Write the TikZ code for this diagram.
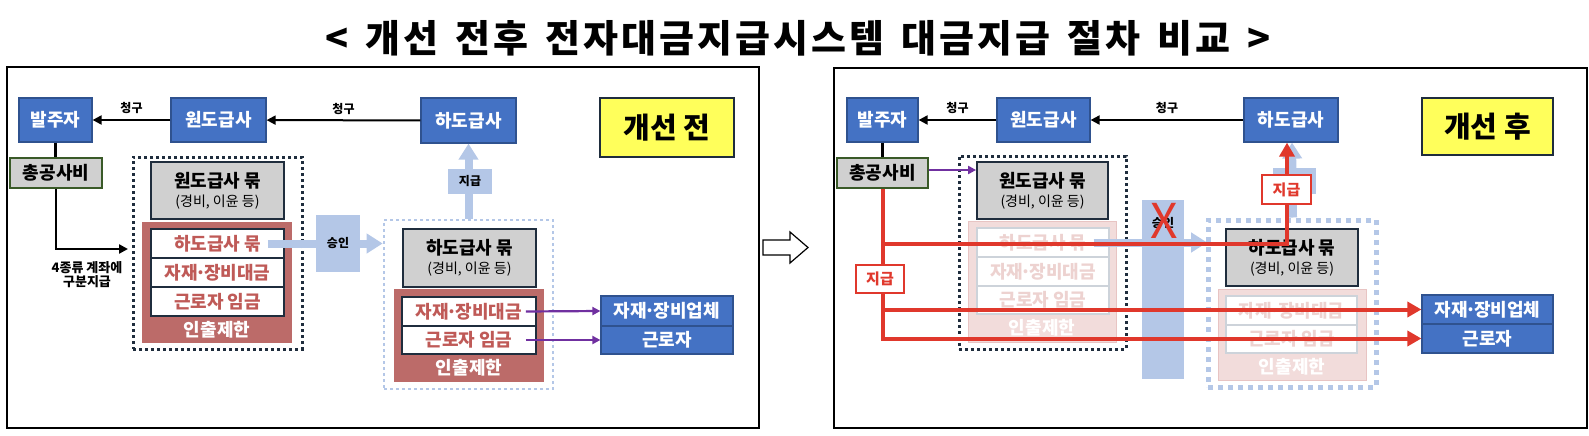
\documentclass[tikz,border=0pt]{standalone}
\usepackage{fontspec}
\setmainfont{Noto Sans CJK KR}
\usetikzlibrary{arrows.meta}

\definecolor{boxblue}{HTML}{4472C4}
\definecolor{boxblueline}{HTML}{2F528F}
\definecolor{bagfill}{HTML}{D0D0D0}
\definecolor{darkline}{HTML}{1F2D3D}
\definecolor{lockred}{HTML}{BC6B69}
\definecolor{locktext}{HTML}{BF5A57}
\definecolor{paleblue}{HTML}{B4C7E7}
\definecolor{signyellow}{HTML}{FFFF5B}
\definecolor{payred}{HTML}{E0382C}
\definecolor{viol}{HTML}{7030A0}
\definecolor{totgreen}{HTML}{3A5A28}
\definecolor{fadefill}{HTML}{F2DCDB}
\definecolor{fadeline}{HTML}{E8C4C3}
\definecolor{fadegrid}{HTML}{CDD3DA}
\definecolor{fadetext}{HTML}{EDD2D0}

\newcommand\fsz[1]{\fontsize{#1}{#1}\selectfont}
\newcommand\mdot{\kern-0.12em·\kern-0.12em}

\tikzset{
  dims/.style 2 args={minimum width=#1pt, minimum height=#2pt},
  panel/.style={draw=black, line width=1.6pt, inner sep=0pt},
  partybox/.style={draw=boxblueline, fill=boxblue, line width=1.2pt, text=white, font=\fsz{18}\bfseries, inner sep=0pt},
  bagbox/.style={draw=darkline, fill=bagfill, line width=1.8pt, align=center, font=\fsz{18}, inner sep=0pt},
  totbox/.style={draw=totgreen, fill=bagfill, line width=1.2pt, font=\fsz{18}\bfseries, inner sep=0pt},
  statebox/.style={draw=darkline, fill=signyellow, line width=2.8pt, font=\fsz{29}\bfseries, inner sep=0pt},
  lockbox/.style={fill=lockred, inner sep=0pt},
  lockrow/.style={draw=darkline, fill=white, line width=1.5pt, text=locktext, font=\fsz{18}\bfseries, inner sep=0pt},
  locklabel/.style={text=white, font=\fsz{18}\bfseries, inner sep=0pt},
  fadebox/.style={fill=fadefill, draw=fadeline, line width=1pt, inner sep=0pt},
  faderow/.style={draw=fadegrid, fill=white, line width=1.2pt, text=fadetext, font=\fsz{18}\bfseries, inner sep=0pt},
  grpblack/.style={draw=darkline, line width=3pt, dash pattern=on 3pt off 3pt, inner sep=0pt},
  grpblue/.style={draw=paleblue, line width=2.6pt, dash pattern=on 2.6pt off 3.4pt, inner sep=0pt},
  grpbluewide/.style={draw=paleblue, line width=5pt, dash pattern=on 5pt off 5pt, inner sep=0pt},
  smalltag/.style={font=\fsz{12}\bfseries, inner sep=0pt},
  paytag/.style={draw=payred, fill=white, line width=2.8pt, text=payred, font=\fsz{15}\bfseries, inner sep=0pt},
  oktag/.style={fill=paleblue, font=\fsz{12}\bfseries, inner sep=0pt},
  callarrow/.style={draw=black, line width=2pt, -{Triangle[width=9pt,length=9pt]}},
  feedline/.style={draw=black, line width=2.2pt},
  lbarrow/.style={draw=paleblue, line width=8pt, -{Triangle[width=19pt,length=16pt]}},
  vioarrow/.style={draw=viol, line width=2.2pt, -{Triangle[width=8pt,length=8pt]}},
  payline/.style={draw=payred, line width=4pt},
  payarrow/.style={payline, -{Triangle[width=15pt,length=14pt]}}
}

\begin{document}
\begin{tikzpicture}[x=1pt, y=-1pt]
\useasboundingbox (0,0) rectangle (1589,436);

\node (title) at (798,38) {\fsz{38}\bfseries\addfontfeature{LetterSpace=8}\spaceskip=0.45em < 개선 전후 전자대금지급시스템 대금지급 절차 비교 >};

% before
\node[panel, dims={752}{361}] (lframe) at (383,247.5) {};
\node[partybox, dims={73}{44}] (lbal) at (55.5,120) {발주자};
\node[partybox, dims={95}{44}] (lwon) at (218.5,120) {원도급사};
\node[partybox, dims={95}{45}] (lha) at (468.5,120.5) {하도급사};
\node[statebox, dims={134}{59}] (lstate) at (667,127.5) {개선 전};
\draw[callarrow] (lwon) -- node[smalltag, above=5pt] {청구} (lbal);
\draw[callarrow] (lha) -- node[smalltag, above=5pt] {청구} (lwon);
\node[totbox, dims={92}{30}] (ltot) at (56,173) {총공사비};
\draw[feedline] (lbal.south) -- (lbal.south |- ltot.north);

\node[grpblack, dims={169}{192}] (lwgrp) at (217.5,253) {};
\node[bagbox, dims={133}{57}] (lwbag) at (217.5,190.5) {{\bfseries 원도급사 묶}\\[1pt]{\fsz{14}(경비, 이윤 등)}};
\node[lockbox, dims={150}{121}] (lwlock) at (217,282.5) {};
\node[lockrow, dims={133}{29}] (lwr1) at (217.5,243.5) {하도급사 묶};
\node[lockrow, dims={133}{29}] (lwr2) at (217.5,272.5) {자재\mdot 장비대금};
\node[lockrow, dims={133}{29}] (lwr3) at (217.5,301.5) {근로자 임금};
\node[locklabel] (lwlab) at (217,330) {인출제한};

\coordinate (lin) at (128,249);
\draw[callarrow, line width=2.4pt] (ltot.south) |- (lin);
\node[align=center, font=\fsz{13}\bfseries, inner sep=0pt] (lsplit) at (87,275) {4종류 계좌에\\[1pt]구분지급};

\node[grpblue, dims={169}{169}] (lhgrp) at (468.5,304.5) {};
\draw[lbarrow] ([xshift=-17pt]lwr1.east) -- (lwr1 -| lhgrp.west);
\node[oktag, dims={44}{57}] (lok) at (338,243.5) {승인};
\draw[lbarrow] (lhgrp.north) -- (lha.south);
\node[oktag, dims={44}{25}] (lpay) at (470,181.5) {지급};

\node[bagbox, dims={133}{58}] (lhbag) at (469.5,258) {{\bfseries 하도급사 묶}\\[1pt]{\fsz{14}(경비, 이윤 등)}};
\node[lockbox, dims={150}{93}] (lhlock) at (469,335.5) {};
\node[lockrow, dims={134}{29}] (lhr1) at (469,311.5) {자재\mdot 장비대금};
\node[lockrow, dims={134}{28}] (lhr2) at (469,340) {근로자 임금};
\node[locklabel] (lhlab) at (469,368) {인출제한};

\node[partybox, dims={132}{30}] (lmat) at (667,311) {자재\mdot 장비업체};
\node[partybox, dims={132}{28}] (lwork) at (667,340) {근로자};
\draw[vioarrow] ([xshift=-11pt]lhr1.east) -- (lmat.west);
\draw[vioarrow] ([xshift=-11pt]lhr2.east) -- (lwork.west);

% between
\draw[line width=1.2pt, fill=white] (763,240) -- (790,240) -- (790,232) -- (808,247.5)
  -- (790,263) -- (790,255) -- (763,255) -- cycle;

% after
\node[panel, dims={753}{360}] (rframe) at (1210.5,248) {};
\node[partybox, dims={71}{44}] (rbal) at (882.5,120) {발주자};
\node[partybox, dims={93}{44}] (rwon) at (1043.5,120) {원도급사};
\node[partybox, dims={94}{44}] (rha) at (1291,120) {하도급사};
\node[statebox, dims={131}{57}] (rstate) at (1487.5,126.5) {개선 후};
\draw[callarrow] (rwon) -- node[smalltag, above=5pt] {청구} (rbal);
\draw[callarrow] (rha) -- node[smalltag, above=5pt] {청구} (rwon);
\node[totbox, dims={91}{30}] (rtot) at (882.5,173) {총공사비};
\draw[feedline] (rbal.south) -- (rbal.south |- rtot.north);

\node[grpblack, dims={167}{193}] (rwgrp) at (1042.5,252.5) {};
\node[bagbox, dims={131}{57}] (rwbag) at (1042.5,190.5) {{\bfseries 원도급사 묶}\\[1pt]{\fsz{14}(경비, 이윤 등)}};
\draw[vioarrow] ([yshift=3pt]rtot.east) -- ([yshift=3pt]rtot.east -| rwbag.west);
\node[fadebox, dims={148}{121}] (rwlock) at (1042,281.5) {};
\node[faderow, dims={132}{29}] (rwr1) at (1043,242.5) {하도급사 묶};
\node[faderow, dims={132}{29}] (rwr2) at (1043,271.5) {자재\mdot 장비대금};
\node[faderow, dims={132}{28}] (rwr3) at (1043,300) {근로자 임금};
\node[locklabel] (rwlab) at (1042,328) {인출제한};

\node[fill=paleblue, dims={42}{179}, inner sep=0pt] (rok) at (1163,289.5) {};
\draw[lbarrow] ([xshift=-16pt]rwr1.east) -- (rwr1 -| rok.east) -- ++(23,0);
\node[smalltag] (rokt) at (1163,223) {승인};

\node[grpbluewide, dims={168}{167}] (rhgrp) at (1292,303.5) {};
\node[bagbox, dims={132}{57}] (rhbag) at (1292,257.5) {{\bfseries 하도급사 묶}\\[1pt]{\fsz{14}(경비, 이윤 등)}};
\node[fadebox, dims={148}{91}] (rhlock) at (1292,334.5) {};
\node[faderow, dims={131}{29}] (rhr1) at (1291.5,310.5) {자재\mdot 장비대금};
\node[faderow, dims={131}{28}] (rhr2) at (1291.5,339) {근로자 임금};
\node[locklabel] (rhlab) at (1292,367) {인출제한};

\draw[lbarrow] ([xshift=1pt]rhgrp.north) -- ([xshift=1pt]rha.south);
\node[oktag, dims={43}{26}] (rpayold) at (1294.5,181) {};

\node[partybox, dims={131}{29}] (rmat) at (1487.5,309.5) {자재\mdot 장비업체};
\node[partybox, dims={131}{29}] (rwork) at (1487.5,338.5) {근로자};

\coordinate (rsplit) at (882.5,244);
\coordinate (rturn) at (1287,244);
\draw[payarrow] (rtot.south) |- (rwork.west);
\draw[payarrow] (rtot.south |- rmat.west) -- (rmat.west);
\draw[payarrow] (rsplit) -- (rturn) -- (rturn |- rha.south);
\node[paytag, dims={48}{28}] (rpay1) at (880,279) {지급};
\node[paytag, dims={49}{29}] (rpay2) at (1286.5,189.5) {지급};
\node[text=payred, font=\fsz{48}, inner sep=0pt] (rcross) at (1164,220.5) {X};
\end{tikzpicture}
\end{document}
